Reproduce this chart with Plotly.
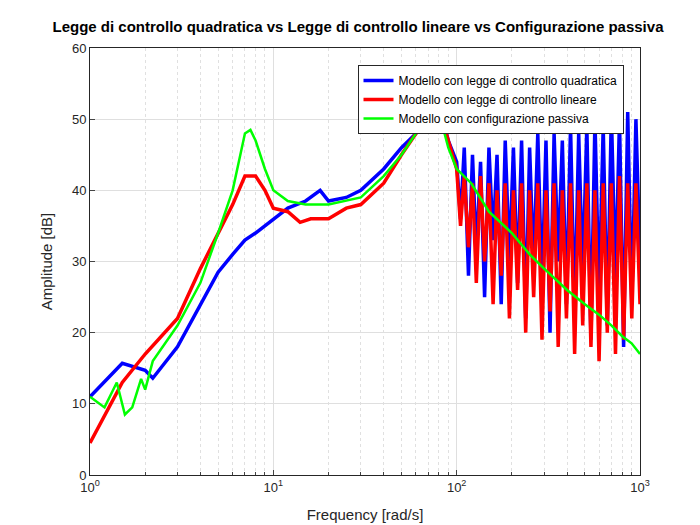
import plotly.graph_objects as go

# low-frequency part
f_quad = [1, 1.5, 2, 2.2, 3, 4, 5, 6, 7, 8, 10, 12, 15, 18, 20, 25, 30, 40, 50, 60, 70, 80, 90]
a_quad = [11, 15.7, 14.7, 13.6, 18, 24, 28.5, 31, 33, 34, 36, 37.5, 38.5, 40, 38.5, 39, 40, 43, 46, 48, 50, 52, 47]
f_lin = [1, 1.5, 2, 3, 4, 5, 6, 7, 8, 9, 10, 12, 14, 16, 20, 25, 30, 40, 50, 60, 70, 80, 90]
a_lin = [4.5, 13, 17, 22, 29, 34, 38, 42, 42, 40, 37.5, 37, 35.5, 36, 36, 37.5, 38, 41, 45, 48, 50, 51.5, 47]

# high-frequency (noisy) part
f_hi = [100, 105, 110, 116, 122, 128, 135, 142, 150, 158, 166, 175, 184, 194, 204, 215,
        226, 238, 250, 263, 277, 292, 307, 323, 340, 358, 377, 397, 418, 440, 463, 487,
        513, 540, 568, 598, 630, 663, 698, 735, 773, 814, 857, 902, 950, 1000]
a_quad_hi = [44, 36, 46, 28, 45, 31, 44, 25, 46, 33, 45, 24, 47, 30, 46, 27, 47, 22, 46, 29,
             48, 26, 47, 20, 48, 30, 47, 24, 49, 22, 48, 28, 49, 19, 50, 25, 49, 21, 51, 27,
             50, 18, 51, 24, 50, 30]
a_lin_hi = [43, 35, 42, 32, 41, 27, 42, 30, 41, 24, 40, 28, 41, 22, 40, 26, 41, 20, 40, 25,
            41, 19, 40, 23, 41, 18, 40, 22, 41, 17, 40, 21, 41, 18, 40, 16, 41, 20, 41, 17,
            42, 19, 41, 22, 41, 24]

f_pas = [1, 1.2, 1.4, 1.55, 1.7, 1.9, 2, 2.2, 3, 4, 5, 6, 7, 7.5, 8, 9, 10, 12, 15, 20, 30,
         40, 50, 60, 70, 80, 90, 100, 120, 150, 200, 250, 300, 400, 500, 600, 700, 800, 900, 1000]
a_pas = [11, 9.5, 13, 8.5, 9.5, 13.5, 12, 16, 21, 27, 34, 40, 48, 48.5, 47, 43, 40, 38.5, 38,
         38, 39, 42, 45, 48, 50, 51, 46, 43, 41, 37, 34, 31, 29, 26, 24, 22.5, 21, 19.5, 18.5, 17]

minor_vals = [m * d for d in (1, 10, 100) for m in range(2, 10)]

fig = go.Figure()
fig.add_trace(go.Scatter(x=f_quad + f_hi, y=a_quad + a_quad_hi, mode="lines",
                         line=dict(color="#0000ff", width=3.5),
                         name="Modello con legge di controllo quadratica"))
fig.add_trace(go.Scatter(x=f_lin + f_hi, y=a_lin + a_lin_hi, mode="lines",
                         line=dict(color="#ff0000", width=3.5),
                         name="Modello con legge di controllo lineare"))
fig.add_trace(go.Scatter(x=f_pas, y=a_pas, mode="lines",
                         line=dict(color="#00ff00", width=2.5),
                         name="Modello con configurazione passiva"))

axis_style = dict(showline=True, linecolor="#262626", mirror=True, ticks="inside",
                  gridcolor="#dfdfdf", zeroline=False, automargin=False,
                  tickfont=dict(size=13, color="#262626"))
fig.update_xaxes(type="log", range=[0, 3],
                 tickvals=[1, 10, 100, 1000],
                 ticktext=["10<sup>0</sup>", "10<sup>1</sup>", "10<sup>2</sup>", "10<sup>3</sup>"],
                 minor=dict(tickvals=minor_vals, showgrid=True, griddash="dot",
                            gridcolor="#e0e0e0", ticks="inside", ticklen=3),
                 title=dict(text="Frequency [rad/s]", font=dict(size=15)), **axis_style)
fig.update_yaxes(range=[0, 60], dtick=10,
                 title=dict(text="Amplitude [dB]", font=dict(size=15)), **axis_style)

fig.update_layout(
    width=700, height=525,
    plot_bgcolor="white", paper_bgcolor="white",
    font=dict(family="Liberation Sans, Arial", color="#262626"),
    margin=dict(l=82, r=68, t=40, b=58, autoexpand=False),
    title=dict(text="<b>Legge di controllo quadratica vs Legge di controllo lineare vs Configurazione passiva</b>",
               x=0.5, xanchor="center", y=0.975, automargin=False,
               font=dict(size=15, color="black")),
    legend=dict(x=0.97, y=0.96, xanchor="right", yanchor="top",
                bgcolor="white", bordercolor="#262626", borderwidth=1,
                font=dict(size=12, color="black"), tracegroupgap=0),
    showlegend=True,
)

fig.write_html("out.html")
